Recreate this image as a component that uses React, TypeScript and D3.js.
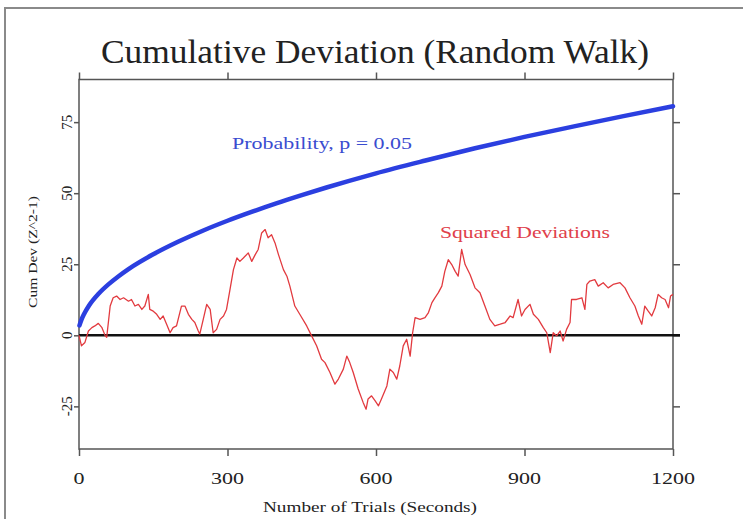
import { useEffect, useRef } from 'react';
import * as d3 from 'd3';

// Squared deviations random walk (trial number, cum dev)
const trials = [
    0, 5, 12, 19, 26, 32, 39, 46, 53, 56, 63, 69, 76, 83, 90, 100, 106, 113, 120, 127,
    133, 140, 143, 150, 157, 164, 170, 177, 184, 190, 197, 207, 214, 221, 228, 234, 241, 244, 251, 258,
    265, 271, 278, 285, 292, 298, 305, 312, 319, 325, 332, 342, 349, 356, 362, 369, 376, 382, 389, 396,
    403, 413, 420, 426, 436, 446, 460, 470, 480, 490, 497, 507, 517, 524, 534, 541, 547, 554, 564, 574,
    580, 584, 591, 598, 605, 611, 622, 628, 635, 642, 648, 655, 662, 669, 674, 679, 689, 699, 706, 713,
    719, 726, 733, 739, 746, 753, 760, 766, 773, 780, 790, 800, 810, 820, 830, 840, 851, 861, 871, 877,
    887, 894, 901, 911, 918, 928, 938, 945, 952, 958, 965, 972, 978, 985, 992, 995, 1005, 1016, 1022, 1026,
    1032, 1042, 1049, 1059, 1069, 1079, 1093, 1103, 1113, 1123, 1130, 1137, 1143, 1150, 1157, 1164, 1170, 1177, 1184, 1191,
    1195, 1200
];
const squaredDev = [
    0, -3.7, -2.5, 1.5, 2.7, 3.3, 4.2, 2.8, -0.2, -0.7, 10.3, 13.2, 13.8, 12.6, 13.2, 12, 12.6, 10.3, 10.9, 9.1,
    10.3, 14.4, 9.1, 8.5, 7.4, 5.6, 6.8, 3.9, 0.9, 2.7, 3.3, 10.3, 10.3, 7.4, 5.6, 4.5, 1.5, 0.4, 5.6, 10.9,
    9.1, 0.9, 2.1, 5.6, 6.8, 9.1, 16.1, 23.1, 27.2, 26, 27.2, 29, 26, 28.4, 30.2, 36, 37.2, 34.3, 35.4, 32.5,
    28.4, 23.1, 20.8, 17.3, 10.3, 7.4, 3.3, -0.2, -3.7, -8.4, -9.6, -13.1, -17.2, -15.4, -11.9, -7.3, -9.6, -13.1, -18.9, -23.6,
    -26, -22.4, -21.3, -23, -24.8, -22.4, -17.8, -11.9, -13.1, -15.4, -10.8, -3.7, -1.4, -7.3, 0.9, 6.2, 5.6, 6.2, 8, 11.5,
    13.2, 15, 17.3, 22.5, 26.6, 24.9, 22.5, 20.8, 30.2, 24.9, 21.4, 16.7, 15, 10.3, 5.6, 3.3, 3.9, 4.5, 6.8, 6.2,
    12.6, 6.8, 9.1, 10.9, 7.4, 5.6, 2.7, 0.9, -6.1, 0.9, -0.2, 1.5, -2, 2.1, 4.5, 12.6, 12.6, 13.2, 9.1, 17.9,
    19.1, 19.6, 17.3, 18.5, 16.7, 17.9, 18.5, 16.7, 13.2, 10.3, 6.8, 3.9, 10.3, 8.5, 6.8, 9.7, 14.4, 13.2, 12.6, 9.7,
    13.8, 14.4
];

// Probability envelope (p = 0.05)
const probTrials = [1, 5, 10, 20, 40, 60, 80, 100, 150, 200, 250, 300, 350, 400, 450, 500, 600, 700, 800, 900, 1000, 1100, 1200];
const probValues = [3.5, 5.5, 7.4, 10.4, 14.7, 18, 20.8, 23.3, 28.5, 32.9, 36.8, 40.3, 43.5, 46.5, 49.3, 52, 57, 61.5, 65.8, 69.8, 73.5, 77.1, 80.6];

const xTicks = [0, 300, 600, 900, 1200];
const yTicks = [-25, 0, 25, 50, 75];

const serif = '"Liberation Serif", "Times New Roman", serif';

export default function App() {
    const svgRef = useRef<SVGSVGElement>(null);

    useEffect(() => {
        if (!svgRef.current) return;
        const svg = d3.select(svgRef.current);
        svg.selectAll("*").remove();

        const width = 743;
        const height = 519;
        const left = 79, right = 673, top = 79.5, bottom = 449;

        const x = d3.scaleLinear().domain([0, 1200]).range([left, right]);
        const y = d3.scaleLinear().domain([-40, 90]).range([bottom, top]);

        svg.append("rect").attr("width", width).attr("height", height).attr("fill", "white");

        // outer frame
        svg.append("path")
            .attr("d", `M5,${height} V8 H${width}`)
            .attr("fill", "none")
            .attr("stroke", "#8a8a8a")
            .attr("stroke-width", 2);

        // title (the source image is stretched sideways, so widths are fixed)
        svg.append("text")
            .attr("x", 375)
            .attr("y", 63)
            .attr("text-anchor", "middle")
            .attr("textLength", 548)
            .attr("lengthAdjust", "spacingAndGlyphs")
            .style("font-family", serif)
            .style("font-size", "34px")
            .style("fill", "#222")
            .text("Cumulative Deviation (Random Walk)");

        // plot box
        svg.append("rect")
            .attr("x", left).attr("y", top)
            .attr("width", right - left).attr("height", bottom - top)
            .attr("fill", "none")
            .attr("stroke", "#555")
            .attr("stroke-width", 1.5);

        const tickStyle = (g: any) => {
            g.select(".domain").remove();
            g.selectAll("line").attr("stroke", "#555").attr("stroke-width", 1.5);
            g.selectAll("text").remove();
        };

        svg.append("g").attr("transform", `translate(0,${bottom})`)
            .call(d3.axisBottom(x).tickValues(xTicks).tickSize(7)).call(tickStyle);
        svg.append("g").attr("transform", `translate(0,${top})`)
            .call(d3.axisTop(x).tickValues(xTicks).tickSize(7)).call(tickStyle);
        svg.append("g").attr("transform", `translate(${left},0)`)
            .call(d3.axisLeft(y).tickValues(yTicks).tickSize(5)).call(tickStyle);
        svg.append("g").attr("transform", `translate(${right},0)`)
            .call(d3.axisRight(y).tickValues(yTicks).tickSize(7)).call(tickStyle);

        // x tick labels
        svg.append("g")
            .selectAll("text")
            .data(xTicks)
            .join("text")
            .attr("x", d => x(d))
            .attr("y", 484)
            .attr("text-anchor", "middle")
            .attr("textLength", d => String(d).length * 11)
            .attr("lengthAdjust", "spacingAndGlyphs")
            .style("font-family", serif)
            .style("font-size", "17px")
            .style("fill", "#222")
            .text(d => d);

        // y tick labels (rotated)
        svg.append("g")
            .selectAll("text")
            .data(yTicks)
            .join("text")
            .attr("transform", d => `translate(72,${y(d)}) rotate(-90)`)
            .attr("text-anchor", "middle")
            .style("font-family", serif)
            .style("font-size", "15px")
            .style("fill", "#222")
            .text(d => d);

        // axis titles
        svg.append("text")
            .attr("x", 370)
            .attr("y", 512)
            .attr("text-anchor", "middle")
            .attr("textLength", 214)
            .attr("lengthAdjust", "spacingAndGlyphs")
            .style("font-family", serif)
            .style("font-size", "15px")
            .style("fill", "#222")
            .text("Number of Trials (Seconds)");

        svg.append("text")
            .attr("transform", `translate(37,252) rotate(-90)`)
            .attr("text-anchor", "middle")
            .attr("textLength", 112)
            .attr("lengthAdjust", "spacingAndGlyphs")
            .style("font-family", serif)
            .style("font-size", "13px")
            .style("fill", "#222")
            .text("Cum Dev (Z^2-1)");

        // zero line
        svg.append("line")
            .attr("x1", left).attr("x2", right + 7)
            .attr("y1", y(0)).attr("y2", y(0))
            .attr("stroke", "#111")
            .attr("stroke-width", 2.5);

        // probability curve
        const probLine = d3.line<number>()
            .x((d, i) => x(probTrials[i]))
            .y(d => y(d))
            .curve(d3.curveMonotoneX);
        svg.append("path")
            .datum(probValues)
            .attr("d", probLine)
            .attr("fill", "none")
            .attr("stroke", "#2b3fe0")
            .attr("stroke-width", 4.5)
            .attr("stroke-linecap", "round");

        // random walk
        const devLine = d3.line<number>()
            .x((d, i) => x(trials[i]))
            .y(d => y(d));
        svg.append("path")
            .datum(squaredDev)
            .attr("d", devLine)
            .attr("fill", "none")
            .attr("stroke", "#e23a3f")
            .attr("stroke-width", 1.3)
            .attr("stroke-linejoin", "round");

        // series labels
        svg.append("text")
            .attr("x", 232)
            .attr("y", 149)
            .attr("textLength", 180)
            .attr("lengthAdjust", "spacingAndGlyphs")
            .style("font-family", serif)
            .style("font-size", "17px")
            .style("fill", "#3a4cd0")
            .text("Probability, p = 0.05");

        svg.append("text")
            .attr("x", 440)
            .attr("y", 238)
            .attr("textLength", 170)
            .attr("lengthAdjust", "spacingAndGlyphs")
            .style("font-family", serif)
            .style("font-size", "17px")
            .style("fill", "#e0404a")
            .text("Squared Deviations");
    }, []);

    return (
        <svg ref={svgRef} width={743} height={519}
            style={{ position: "absolute", left: 0, top: 0, display: "block" }}></svg>
    );
}
